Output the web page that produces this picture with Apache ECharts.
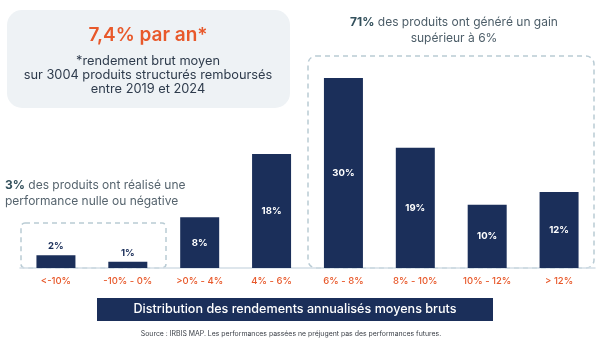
<!DOCTYPE html>
<html><head><meta charset="utf-8">
<script src="https://cdn.jsdelivr.net/npm/echarts@6/dist/echarts.min.js"></script>
<style>html,body{margin:0;padding:0;background:#fff}#c{width:611px;height:345px}</style>
</head><body><div id="c"></div>
<script>
const categories = ['<-10%', '-10% - 0%', '>0% - 4%', '4% - 6%', '6% - 8%', '8% - 10%', '10% - 12%', '> 12%'];
const shares = [2, 1, 8, 18, 30, 19, 10, 12];
const yMax = 30;

const FONT = 'Inter, "Open Sans", sans-serif';
const NAVY = '#1b2f5a';
const ORANGE = '#e8592b';
const chart = echarts.init(document.getElementById('c'));
chart.setOption({
  animation: false,
  grid: {left: 20, right: 16, top: 78, bottom: 77},
  xAxis: {
    type: 'category', data: categories,
    axisLine: {lineStyle: {color: '#d3dee6', width: 1.5}},
    axisTick: {show: false},
    axisLabel: {color: ORANGE, fontSize: 9.5, fontFamily: FONT, fontWeight: 500, margin: 8}
  },
  yAxis: {type: 'value', min: 0, max: yMax, show: false, splitLine: {show: false}},
  series: [{
    type: 'bar', barWidth: 39,
    itemStyle: {color: NAVY},
    data: shares.map(v => ({
      value: v,
      label: v < 5
        ? {show: true, position: 'top', distance: 4, color: NAVY}
        : {show: true, position: 'inside', color: '#ffffff'}
    })),
    label: {formatter: p => p.value + '%', fontSize: 9.5, fontWeight: 'bold', fontFamily: FONT}
  }],
  graphic: [
    {type: 'rect', shape: {x: 7, y: 10, width: 283, height: 98, r: 15}, style: {fill: '#eef2f5'}, z: -1},
    {type: 'text', x: 148, y: 35, style: {text: '7,4% par an*', fill: ORANGE, font: '600 19px ' + FONT, align: 'center', verticalAlign: 'middle'}},
    {type: 'text', x: 148, y: 75, style: {text: '*rendement brut moyen\nsur 3004 produits structurés remboursés\nentre 2019 et 2024', fill: '#2e3b4c', font: '12.8px ' + FONT, align: 'center', verticalAlign: 'middle', lineHeight: 14}},
    {type: 'text', x: 454, y: 30, style: {
      rich: {b: {font: 'bold 12px ' + FONT, fill: '#33505c'}, n: {font: '12px ' + FONT, fill: '#4c5d68'}},
      text: '{b|71%}{n| des produits ont généré un gain}\n{n|supérieur à 6%}', align: 'center', verticalAlign: 'middle', lineHeight: 16}},
    {type: 'text', x: 5, y: 193, style: {
      rich: {b: {font: 'bold 12px ' + FONT, fill: '#33505c'}, n: {font: '12px ' + FONT, fill: '#56646e'}},
      text: '{b|3%}{n| des produits ont réalisé une}\n{n|performance nulle ou négative}', align: 'left', verticalAlign: 'middle', lineHeight: 16}},
    {type: 'rect', shape: {x: 21, y: 223, width: 145, height: 45, r: 4}, style: {fill: 'none', stroke: '#b9cbd4', lineWidth: 1.5, lineDash: [5, 4]}},
    {type: 'rect', shape: {x: 308, y: 56, width: 286, height: 212, r: 8}, style: {fill: 'none', stroke: '#b9cbd4', lineWidth: 1.5, lineDash: [5, 4]}},
    {type: 'rect', shape: {x: 97, y: 298, width: 396, height: 23}, style: {fill: NAVY}},
    {type: 'text', x: 295, y: 309.5, style: {text: 'Distribution des rendements annualisés moyens bruts', fill: '#ffffff', font: '500 12.6px ' + FONT, align: 'center', verticalAlign: 'middle'}},
    {type: 'text', x: 291, y: 334, style: {text: 'Source : IRBIS MAP. Les performances passées ne préjugent pas des performances futures.', fill: '#3a3f47', font: '6.9px ' + FONT, align: 'center', verticalAlign: 'middle'}}
  ]
});
</script></body></html>
